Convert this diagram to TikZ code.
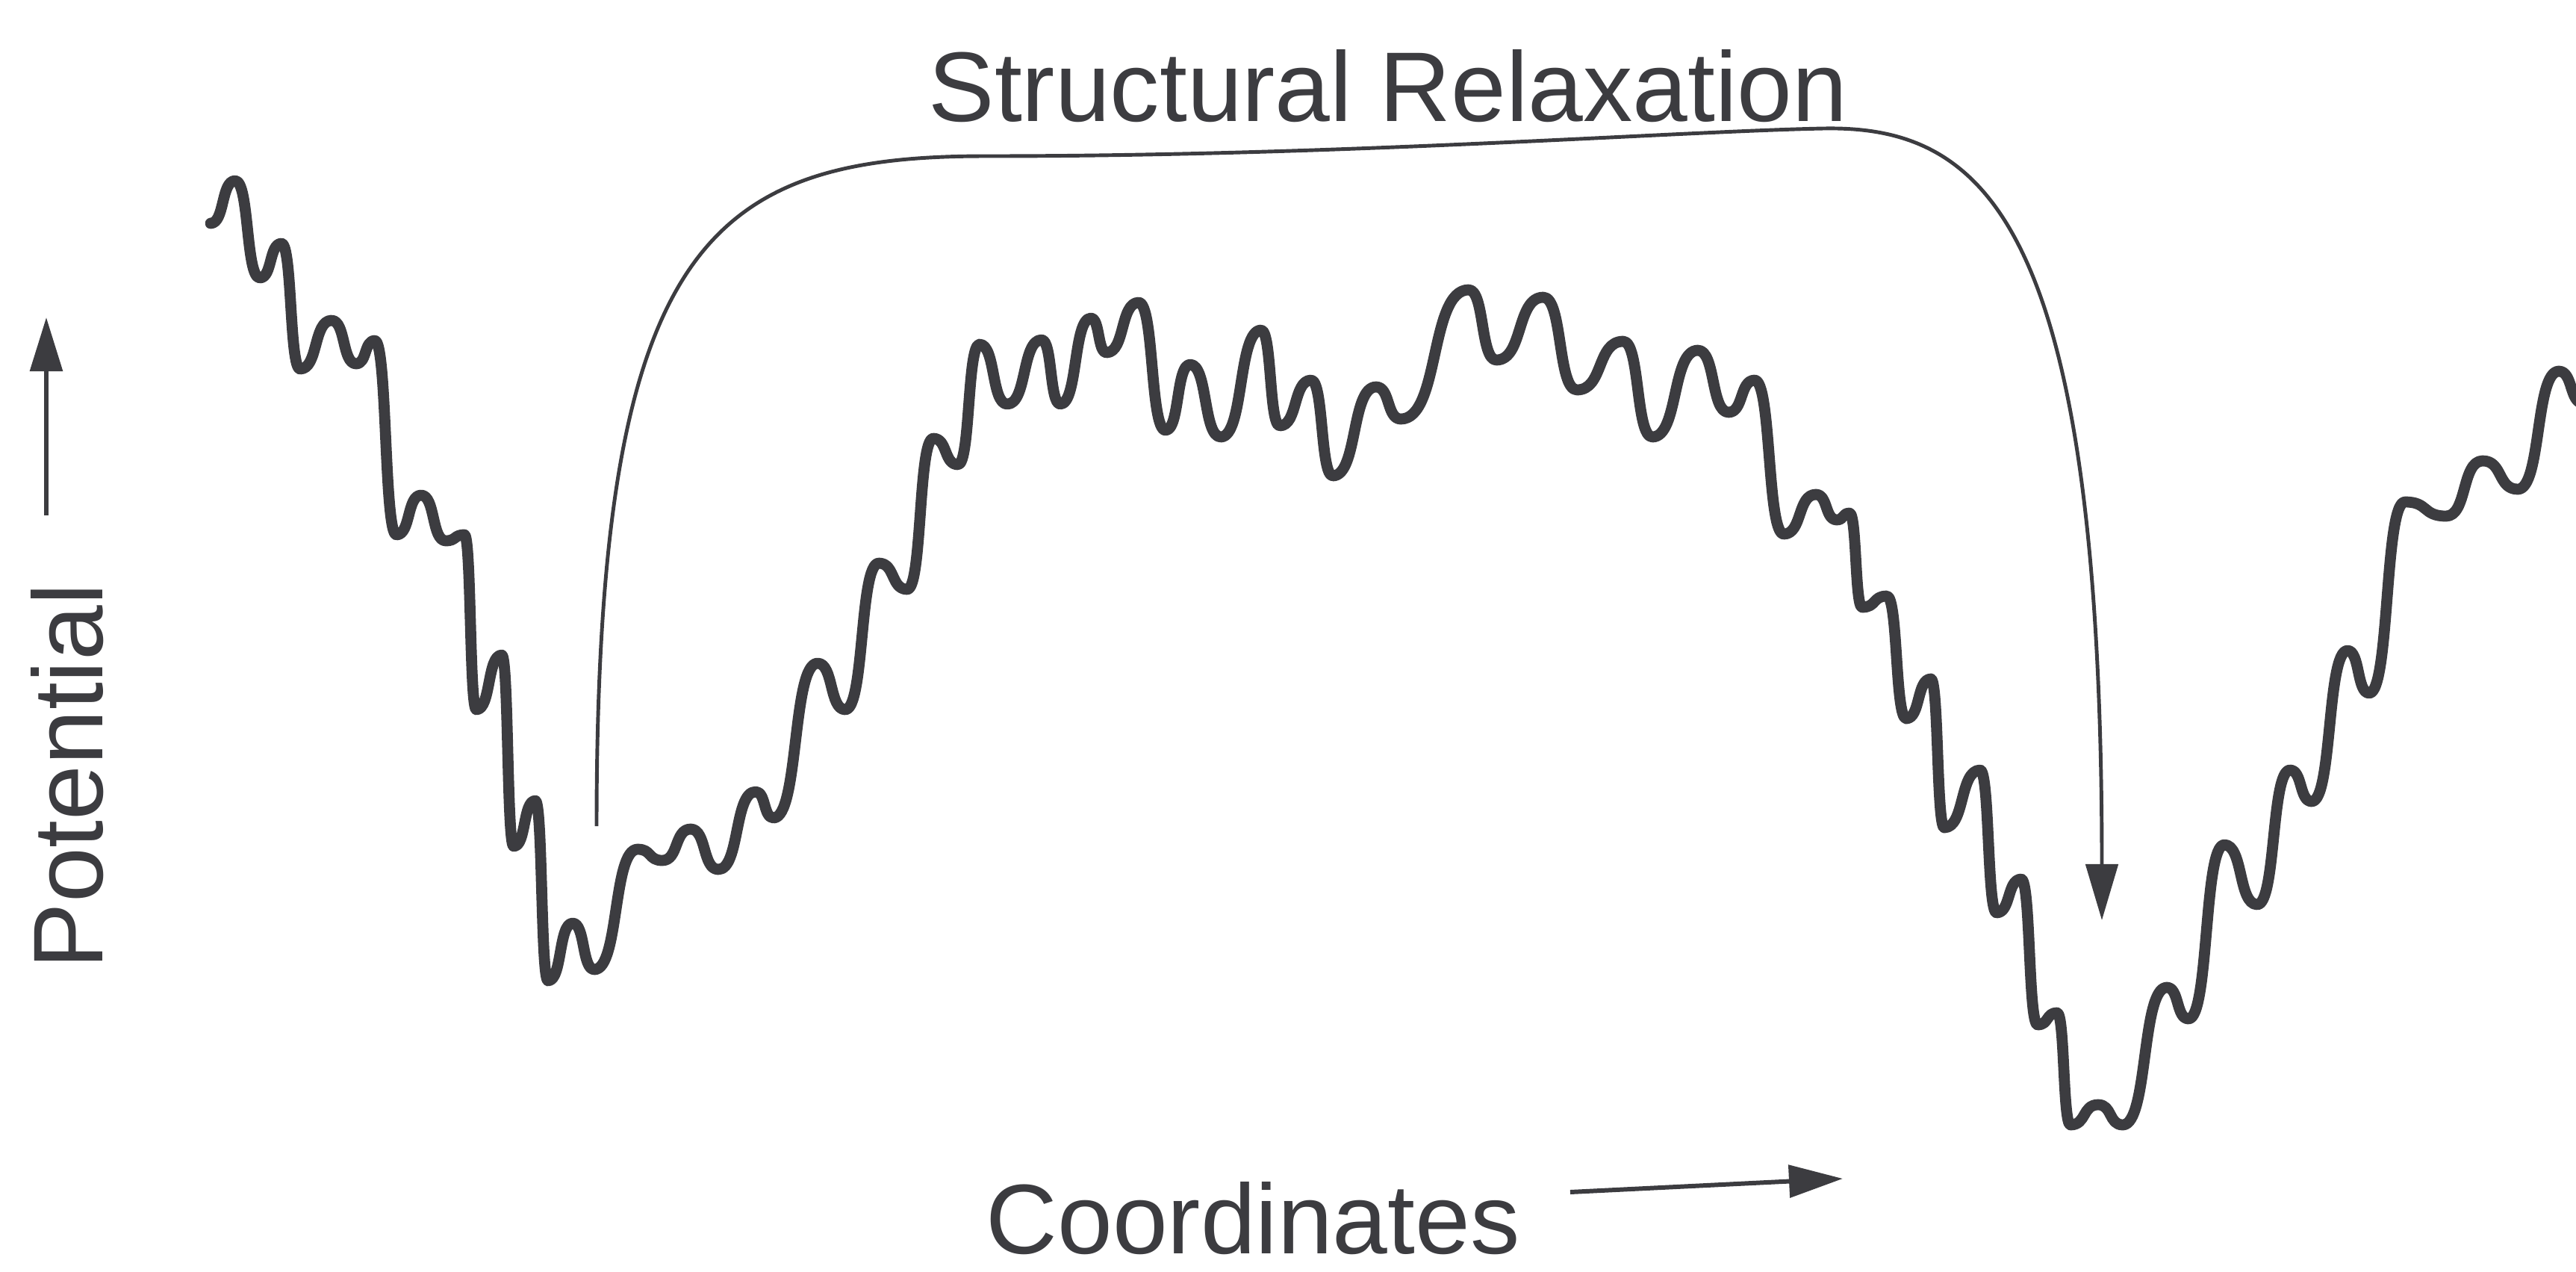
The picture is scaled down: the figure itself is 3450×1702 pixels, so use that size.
\documentclass[tikz,border=0pt]{standalone}
\usepackage{fontspec}
\setmainfont{Liberation Sans}
\usetikzlibrary{arrows.meta}
\definecolor{ink}{HTML}{3C3C40}

\begin{document}
\begin{tikzpicture}[x=0.01cm,y=-0.01cm,
  landscape/.style={draw=ink,line width=4.2pt,line cap=round,line join=round},
  relax/.style={draw=ink,line width=1.4pt,-{Triangle[length=0.75cm,width=0.43cm]}},
  axisarr/.style={draw=ink,line width=1.7pt,-{Triangle[length=0.72cm,width=0.43cm]}},
  axislabel/.style={font=\fontsize{37.7}{45}\selectfont,text=ink,inner sep=0pt,anchor=base west},
]
\useasboundingbox (0,0) rectangle (3450,1702);

% === energy landscape ===
\draw[landscape] (282,299)
  \foreach \x/\y [remember=\x as \px (initially 282), remember=\y as \py (initially 299)] in
  {315/242, 348/372, 377/326, 402/494, 444/429, 477/487, 502/456, 531/716, 564/663,
   597/724, 622/716, 638/950, 672/877, 688/1133, 717/1072, 734/1313, 767/1236,
   796/1298, 854/1137, 887/1152, 925/1110, 962/1164, 1012/1060, 1036/1095,
   1095/888, 1132/950, 1177/754, 1215/789, 1250/587, 1283/622, 1312/461,
   1349/541, 1395/455, 1420/541, 1461/426, 1482/472, 1525/405, 1561/576,
   1594/488, 1635/585, 1689/442, 1714/570, 1756/509, 1785/637, 1843/518,
   1876/561, 1967/388, 2004/482, 2067/398, 2112/522, 2174/457, 2213/585,
   2274/469, 2315/552, 2350/509, 2389/715, 2432/662, 2460/696, 2477/687,
   2494/813, 2527/798, 2553/962, 2586/909, 2604/1108, 2652/1031, 2674/1222,
   2707/1177, 2729/1372, 2755/1356, 2773/1506, 2810/1479, 2843/1506,
   2902/1322, 2931/1364, 2979/1131, 3023/1211, 3067/1031, 3096/1073,
   3144/871, 3173/928, 3221/672, 3276/691, 3325/617, 3372/655, 3427/497, 3460/540}
  { .. controls ({\px+0.58*(\x-\px)},\py) and ({\x-0.58*(\x-\px)},\y) .. (\x,\y) };

% === structural relaxation jump ===
\coordinate (relaxStart) at (799,1106);
\coordinate (relaxEnd) at (2815,1232);
\draw[relax] (relaxStart) .. controls (799,330) and (946,209) .. (1320,209)
  .. controls (1800,209) and (2242,176) .. (2442,172)
  .. controls (2660,168) and (2815,300) .. (relaxEnd);
\node[axislabel] (relaxlabel) at (1243,162) {Structural Relaxation};

% === axes ===
\coordinate (potBase) at (62,690);
\coordinate (potTip) at (62,425);
\draw[axisarr] (potBase) -- (potTip);
\node[axislabel,rotate=90] (potlabel) at (137,1298) {Potential};

\coordinate (coordBase) at (2103,1596);
\coordinate (coordTip) at (2468,1578);
\draw[axisarr] (coordBase) -- (coordTip);
\node[axislabel] (coordlabel) at (1320,1678) {Coordinates};

\end{tikzpicture}
\end{document}
